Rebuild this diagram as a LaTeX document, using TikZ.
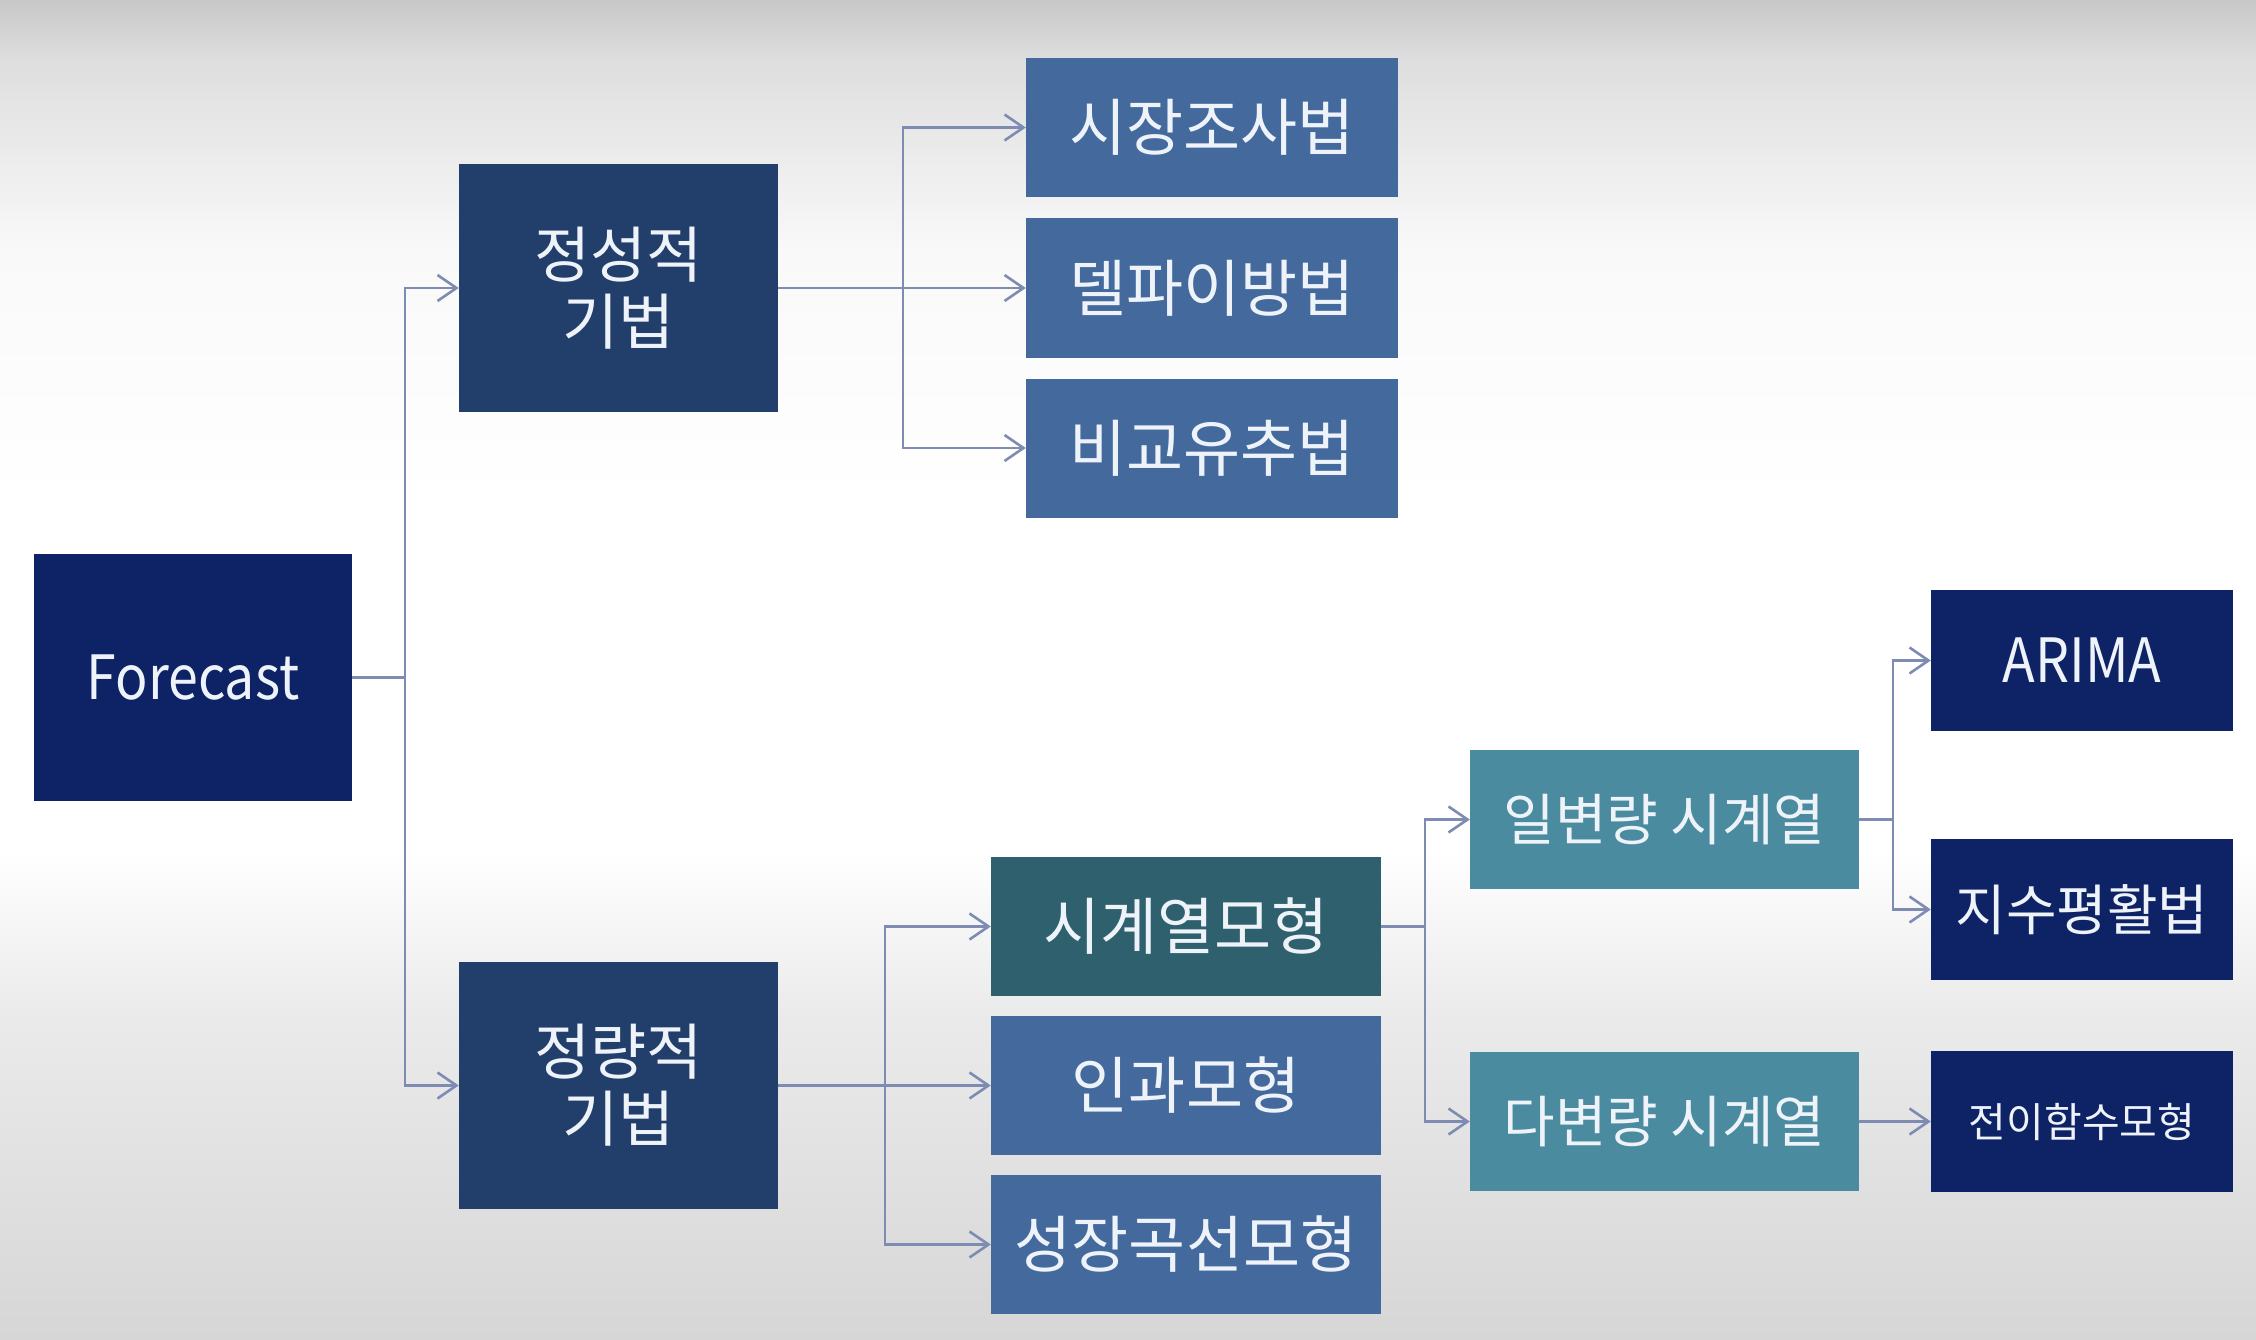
\documentclass[tikz,border=0pt]{standalone}
\usepackage{fontspec}
\setmainfont{Noto Sans CJK KR}
\newfontfamily\latfont[FakeStretch=0.88]{Noto Sans CJK KR}
\usetikzlibrary{arrows.meta}
\definecolor{cNavy}{HTML}{0E2366}
\definecolor{cDark}{HTML}{223E6A}
\definecolor{cBlue}{HTML}{44699D}
\definecolor{cTealD}{HTML}{2E606D}
\definecolor{cTeal}{HTML}{4B8BA0}
\definecolor{cText}{HTML}{EEF3FA}
\definecolor{cLine}{HTML}{7E8BB2}
\definecolor{bgA}{HTML}{C8C8C8}
\definecolor{bgB}{HTML}{DEDEDE}
\definecolor{bgC}{HTML}{F9F9F9}
\definecolor{bgD}{HTML}{EBEBEB}
\definecolor{bgE}{HTML}{D6D6D6}
\tikzset{
  box/.style={draw=none, inner sep=0pt, text=cText, align=center},
  bigbox/.style={box, minimum width=319pt, minimum height=247pt, fill=cDark, font=\fontsize{61}{67}\selectfont},
  midbox/.style={box, minimum width=372pt, minimum height=139pt, fill=cBlue, font=\fontsize{62}{68}\selectfont},
  tbox/.style={box, minimum width=390pt, minimum height=139pt, font=\fontsize{62}{68}\selectfont},
  ubox/.style={box, minimum width=389pt, minimum height=139pt, fill=cTeal, font=\fontsize{56}{62}\selectfont},
  abox/.style={box, minimum width=302pt, minimum height=141pt, fill=cNavy},
  conn/.style={draw=cLine, line width=2.6pt},
  arr/.style={conn, -{Straight Barb[length=19pt, width=26pt, line width=2.6pt]}}
}
\begin{document}
\begin{tikzpicture}[x=1pt, y=-1pt]
\useasboundingbox (0,0) rectangle (2256,1340);
% background
\fill[top color=bgA, bottom color=bgB] (0,0) rectangle (2256,60.5);
\fill[top color=bgB, bottom color=bgC] (0,60) rectangle (2256,250.5);
\fill[top color=bgC, bottom color=white] (0,250) rectangle (2256,500.5);
\fill[white] (0,500) rectangle (2256,850.5);
\fill[top color=white, bottom color=bgD] (0,850) rectangle (2256,1010.5);
\fill[top color=bgD, bottom color=bgE] (0,1010) rectangle (2256,1340);

% nodes
\node[box, fill=cNavy, minimum width=318pt, minimum height=247pt, font=\latfont\fontsize{61}{70}\selectfont] (fc) at (193,677.5) {Forecast};
\node[bigbox] (ql) at (618.5,288) {정성적\\기법};
\node[bigbox] (qn) at (618.5,1085.5) {정량적\\기법};

\node[midbox] (m1) at (1212,127.5) {시장조사법};
\node[midbox] (m2) at (1212,288) {델파이방법};
\node[midbox] (m3) at (1212,448) {비교유추법};

\node[tbox, fill=cTealD] (t1) at (1186,926.5) {시계열모형};
\node[tbox, fill=cBlue] (t2) at (1186,1085.5) {인과모형};
\node[tbox, fill=cBlue] (t3) at (1186,1244.5) {성장곡선모형};

\node[ubox] (u1) at (1664.5,819.5) {일변량 시계열};
\node[ubox] (u2) at (1664.5,1121.5) {다변량 시계열};

\node[abox, font=\latfont\fontsize{61}{70}\selectfont] (a1) at (2082,660.5) {ARIMA};
\node[abox, font=\fontsize{55}{62}\selectfont] (a2) at (2082,909.5) {지수평활법};
\node[abox, font=\fontsize{41}{48}\selectfont] (a3) at (2082,1121.5) {전이함수모형};

% junctions
\coordinate (j0) at (405,677.5);
\coordinate (j1) at (903,288);
\coordinate (j2) at (885,1085.5);
\coordinate (j3) at (1425,926.5);
\coordinate (j4) at (1893,819.5);

% connectors
\draw[conn] (fc.east) -- (j0);
\draw[arr] (j0) |- (ql.west);
\draw[arr] (j0) |- (qn.west);

\draw[conn] (ql.east) -- (j1);
\draw[arr] (j1) |- (m1.west);
\draw[arr] (j1) -- (m2.west);
\draw[arr] (j1) |- (m3.west);

\draw[conn] (qn.east) -- (j2);
\draw[arr] (j2) |- (t1.west);
\draw[arr] (j2) -- (t2.west);
\draw[arr] (j2) |- (t3.west);

\draw[conn] (t1.east) -- (j3);
\draw[arr] (j3) |- (u1.west);
\draw[arr] (j3) |- (u2.west);

\draw[conn] (u1.east) -- (j4);
\draw[arr] (j4) |- (a1.west);
\draw[arr] (j4) |- (a2.west);

\draw[arr] (u2.east) -- (a3.west);
\end{tikzpicture}
\end{document}
